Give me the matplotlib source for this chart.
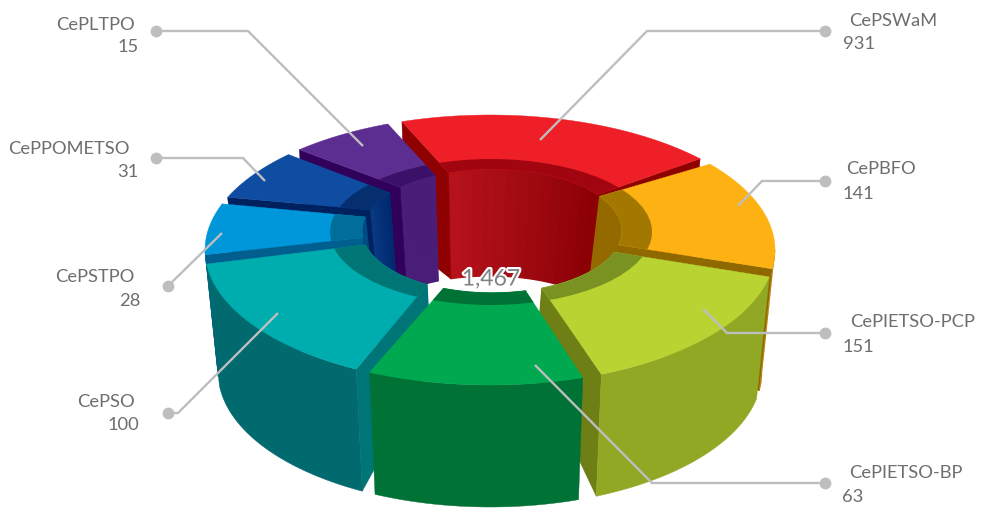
import numpy as np
import matplotlib
matplotlib.use("Agg")
import matplotlib.pyplot as plt
import matplotlib.patheffects as pe
from matplotlib.patches import Ellipse, Polygon

# Data
names = ["CePSWaM", "CePBFO", "CePIETSO-PCP", "CePIETSO-BP", "CePSO", "CePSTPO", "CePPOMETSO", "CePLTPO"]
values = [931, 141, 151, 63, 100, 28, 31, 15]
total_label = "1,467"

# Drawn angle of each slice (not proportional to values)
outer_start = [-18, 50.5, 101.5, 161, 208, 268, 293, 318]
outer_end = [47.5, 98, 157, 205, 264, 290, 315, 339]
inner_start = [-19.5, 56, 110, 165, 210, 264, 290, 315]
inner_end = [54, 103, 157.4, 202, 257, 283, 308, 334]

# Colours
top_colors = ["#EE1F27", "#FDB113", "#B9D432", "#00A94F", "#00ADAE", "#0096DA", "#0E4DA2", "#5C2E91"]
shade_colors = ["#A00510", "#A37800", "#7A9222", "#007236", "#007575", "#006E98", "#062F70", "#3A1068"]
side_colors = ["#A00510", "#B5800A", "#90A824", "#007236", "#006A6F", "#005F8F", "#0A3C85", "#30005A"]
end_colors = ["#8F0000", "#8F6800", "#6E7F15", "#005F2C", "#007578", "#005F8F", "#00215F", "#30005A"]
wall_left = ["#B5121B", "#946A00", "#6E7F15", "#005F2C", "#007575", "#004A80", "#0A3C85", "#4A1E78"]
wall_right = ["#8A0005", "#946A00", "#6E7F15", "#005F2C", "#007575", "#004A80", "#002A70", "#4A1E78"]

# Ellipses: cx, cy, a, b in pixels
OUT_TOP = (490, 250, 285, 135)
OUT_BOT = (490, 372, 272, 135)
IN_TOP = (492, 231, 130, 62)
IN_BOT = (490, 324, 118, 48)
SHADE = (491, 232, 161, 73)

# back to front
paint_order = [0, 7, 6, 5, 1, 2, 4, 3]

TEXT_COLOR = "#6D6E71"
LINE_COLOR = "#BDBEC0"

# Leader lines and label positions
leaders = [
    [(825, 31), (647, 31), (540, 140)],
    [(825, 181), (762, 181), (738, 206)],
    [(825, 333), (727, 333), (703, 309)],
    [(825, 483), (652, 483), (535, 365)],
    [(168, 413), (178, 413), (278, 313)],
    [(168, 286), (222, 233)],
    [(156, 158), (243, 158), (265, 181)],
    [(156, 31), (248, 31), (363, 146)],
]
name_pos = [(849, 21, "left"), (846, 169, "left"), (850, 322, "left"), (849, 473, "left"),
            (135, 402, "right"), (134, 277, "right"), (130, 149, "right"), (135, 25, "right")]
value_pos = [(843, 44, "left"), (843, 194, "left"), (843, 347, "left"), (842, 497, "left"),
             (139, 425, "right"), (140, 301, "right"), (138, 172, "right"), (139, 47, "right")]


def arc(ell, t0, t1, n=60):
    t = np.radians(np.linspace(t0, t1, n))
    return np.column_stack([ell[0] + ell[2] * np.sin(t), ell[1] - ell[3] * np.cos(t)])


def end_visible(quad, is_start):
    a = quad[1] - quad[0]
    b = quad[3] - quad[0]
    cross = a[0] * b[1] - a[1] * b[0]
    return cross < 0 if is_start else cross > 0


def fill(ax, pts, color, z, lw=0.3):
    p = Polygon(pts, closed=True, facecolor=color, edgecolor=color, lw=lw, zorder=z)
    ax.add_patch(p)
    return p


fig = plt.figure(figsize=(9.84, 5.09), dpi=100)
ax = fig.add_axes([0, 0, 1, 1])
ax.set_xlim(0, 984)
ax.set_ylim(509, 0)
ax.axis("off")

z = 1
for i in paint_order:
    # inner wall as vertical strips
    steps = 14
    ts = np.linspace(inner_start[i], inner_end[i], steps + 1)
    c0 = np.array(matplotlib.colors.to_rgb(wall_left[i]))
    c1 = np.array(matplotlib.colors.to_rgb(wall_right[i]))
    for k in range(steps):
        col = c0 + (c1 - c0) * k / (steps - 1)
        fill(ax, np.vstack([arc(IN_TOP, ts[k], ts[k + 1], 6), arc(IN_BOT, ts[k + 1], ts[k], 6)]), tuple(col), z, lw=0.9)
    z += 1

    # radial end faces
    for t_out, t_in, is_start in [(outer_start[i], inner_start[i], True), (outer_end[i], inner_end[i], False)]:
        quad = np.vstack([arc(OUT_TOP, t_out, t_out, 1), arc(OUT_BOT, t_out, t_out, 1),
                          arc(IN_BOT, t_in, t_in, 1), arc(IN_TOP, t_in, t_in, 1)])
        if end_visible(quad, is_start):
            fill(ax, quad, end_colors[i], z)
    z += 1

    # outer wall, only the part that faces the viewer
    wall_from = max(outer_start[i], 90)
    wall_to = min(outer_end[i], 270)
    if wall_from < wall_to:
        fill(ax, np.vstack([arc(OUT_TOP, wall_from, wall_to),
                            arc(OUT_BOT, wall_to, wall_from)]), side_colors[i], z)
    z += 1

    # top face and the shadow round the hole
    top = np.vstack([arc(OUT_TOP, outer_start[i], outer_end[i]),
                     arc(IN_TOP, inner_end[i], inner_start[i])])
    fill(ax, top, top_colors[i], z)
    z += 1
    shade = fill(ax, top, shade_colors[i], z)
    clip = Ellipse((SHADE[0], SHADE[1]), SHADE[2] * 2, SHADE[3] * 2, transform=ax.transData)
    shade.set_clip_path(clip)
    z += 1

for line in leaders:
    xs, ys = zip(*line)
    ax.plot(xs, ys, color=LINE_COLOR, lw=1.7, zorder=z, solid_capstyle="butt", solid_joinstyle="miter")
    ax.plot(xs[0], ys[0], "o", color=LINE_COLOR, ms=8.5, mew=0, zorder=z)
z += 1

font = "Lato"
for name, val, np_, vp in zip(names, values, name_pos, value_pos):
    ax.text(np_[0], np_[1], name, ha=np_[2], va="center", fontsize=13.2, color=TEXT_COLOR, family=font, zorder=z)
    ax.text(vp[0], vp[1], str(val), ha=vp[2], va="center", fontsize=13.2, color=TEXT_COLOR, family=font, zorder=z)

ax.text(491, 279, total_label, ha="center", va="center", fontsize=16.5, color="#808285", family=font, zorder=z,
        path_effects=[pe.withStroke(linewidth=3, foreground="white")])

fig.savefig("out.png", dpi=100)
